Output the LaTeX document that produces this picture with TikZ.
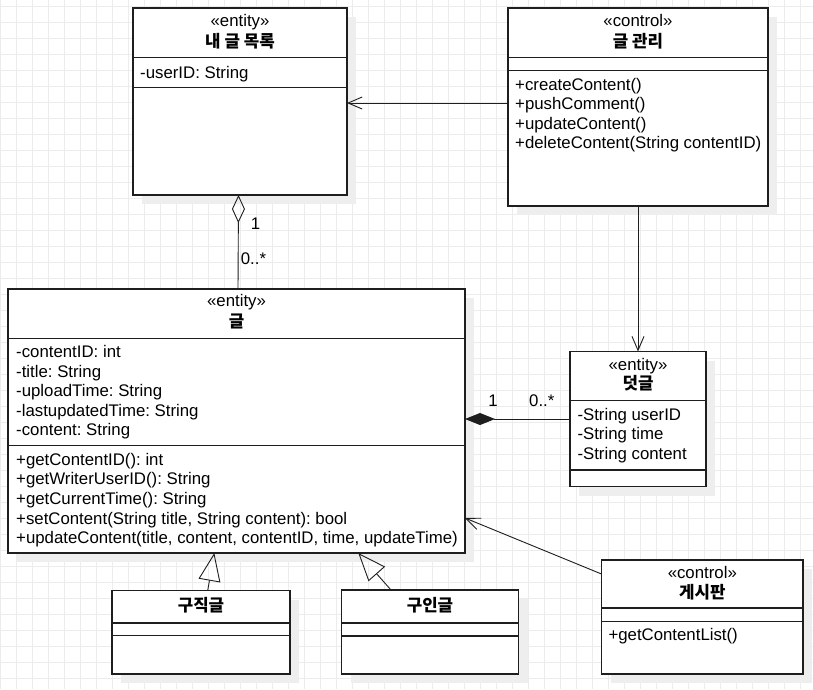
\documentclass[tikz,border=0pt]{standalone}
\usepackage{fontspec}
\setmainfont{Liberation Sans}
\newfontfamily\kr{Noto Sans CJK KR}
\usepackage{tikz}
\usetikzlibrary{arrows.meta, positioning, calc, shadows}
\definecolor{gridcolor}{RGB}{236, 236, 236}
\definecolor{shadowcolor}{RGB}{238, 238, 238}
\definecolor{linecolor}{RGB}{30, 30, 30}
\newcommand{\umlfont}{\fontsize{16.8}{19.5}\selectfont}
\frenchspacing

\begin{document}
\begin{tikzpicture}[
    x=1pt, y=-1pt,
    umlclass/.style={rectangle, draw=linecolor, line width=1.1pt, fill=white, inner sep=0pt, outer sep=0pt, anchor=north west,
        drop shadow={shadow xshift=9pt, shadow yshift=-9pt, fill=shadowcolor, opacity=1}},
    divider/.style={draw=linecolor, line width=1.1pt},
    stereo/.style={font=\umlfont, anchor=base, inner sep=0pt},
    cname/.style={font=\umlfont\kr\bfseries, anchor=base, inner sep=0pt},
    member/.style={font=\umlfont, anchor=base west, inner sep=0pt},
    mult/.style={font=\umlfont, inner sep=0pt},
    assoc/.style={-{Straight Barb[length=14pt, width=12pt]}, draw=linecolor, line width=0.9pt},
    inherit/.style={-{Triangle[open, length=28pt, width=22pt]}, draw=linecolor, line width=0.9pt},
    aggregation/.style={{Diamond[open, length=28pt, width=13pt]}-, draw=linecolor, line width=0.9pt},
    composition/.style={{Diamond[length=30pt, width=12pt]}-, draw=linecolor, line width=0.9pt}
]

\useasboundingbox (0,0) rectangle (813,689);
\fill[white] (0,0) rectangle (813,689);

% Grid
\foreach \gx in {0,16,...,812} \draw[gridcolor, line width=0.8pt] (\gx,0) -- (\gx,689);
\foreach \gy in {6,22,...,688} \draw[gridcolor, line width=0.8pt] (0,\gy) -- (813,\gy);

% === 내 글 목록 ===
\node[umlclass, minimum width=214pt, minimum height=187pt] (mylist) at (133,8) {};
\draw[divider] (133,57.5) -- (347,57.5);
\draw[divider] (133,87.5) -- (347,87.5);
\node[stereo] (mylist_st) at (240,26.7) {«entity»};
\node[cname] (mylist_nm) at (240,47) {내 글 목록};
\node[member] (mylist_a1) at (140,78) {-userID: String};

% === 글 관리 ===
\node[umlclass, minimum width=260pt, minimum height=198pt] (ctrl) at (508,8) {};
\draw[divider] (508,57.5) -- (768,57.5);
\draw[divider] (508,70.5) -- (768,70.5);
\node[stereo] (ctrl_st) at (638,26.7) {«control»};
\node[cname] (ctrl_nm) at (638,47) {글 관리};
\node[member] (ctrl_m1) at (515,90) {+createContent()};
\node[member] (ctrl_m2) at (515,109.3) {+pushComment()};
\node[member] (ctrl_m3) at (515,129) {+updateContent()};
\node[member] (ctrl_m4) at (515,148.3) {+deleteContent(String contentID)};

% === 글 ===
\node[umlclass, minimum width=457pt, minimum height=264pt] (post) at (8,289) {};
\draw[divider] (8,338.5) -- (465,338.5);
\draw[divider] (8,445.5) -- (465,445.5);
\node[stereo] (post_st) at (236.5,306.7) {«entity»};
\node[cname] (post_nm) at (236.5,327) {글};
\node[member] (post_a1) at (16,357.3) {-contentID: int};
\node[member] (post_a2) at (16,377) {-title: String};
\node[member] (post_a3) at (16,396.7) {-uploadTime: String};
\node[member] (post_a4) at (16,416) {-lastupdatedTime: String};
\node[member] (post_a5) at (16,435.7) {-content: String};
\node[member] (post_m1) at (16,465) {+getContentID(): int};
\node[member] (post_m2) at (16,484.7) {+getWriterUserID(): String};
\node[member] (post_m3) at (16,504) {+getCurrentTime(): String};
\node[member] (post_m4) at (16,524) {+setContent(String title, String content): bool};
\node[member] (post_m5) at (16,543.3) {+updateContent(title, content, contentID, time, updateTime)};

% === 덧글 ===
\node[umlclass, minimum width=136pt, minimum height=135pt] (reply) at (570,351.5) {};
\draw[divider] (570,400.5) -- (706,400.5);
\draw[divider] (570,470) -- (706,470);
\node[stereo] (reply_st) at (638,370) {«entity»};
\node[cname] (reply_nm) at (638,389.5) {덧글};
\node[member] (reply_a1) at (577.3,420) {-String userID};
\node[member] (reply_a2) at (577.3,439.3) {-String time};
\node[member] (reply_a3) at (577.3,459) {-String content};

% === 구직글 / 구인글 ===
\node[umlclass, minimum width=178pt, minimum height=83.5pt] (seek) at (112,590.5) {};
\draw[divider] (112,623) -- (290,623);
\draw[divider] (112,635.5) -- (290,635.5);
\node[cname] (seek_nm) at (201,611.5) {구직글};

\node[umlclass, minimum width=177pt, minimum height=84pt] (hire) at (341.5,590) {};
\draw[divider] (341.5,623) -- (518.5,623);
\draw[divider] (341.5,636) -- (518.5,636);
\node[cname] (hire_nm) at (430,611.5) {구인글};

% === 게시판 ===
\node[umlclass, minimum width=201.5pt, minimum height=114pt] (board) at (601.5,560) {};
\draw[divider] (601.5,608) -- (803,608);
\draw[divider] (601.5,621.5) -- (803,621.5);
\node[stereo] (board_st) at (702.3,578.3) {«control»};
\node[cname] (board_nm) at (702.3,598) {게시판};
\node[member] (board_m1) at (608.3,640) {+getContentList()};

% Connectors
\draw[assoc] (ctrl.west |- 0,103) -- (mylist.east |- 0,103);
\draw[assoc] (ctrl.south) -- (reply.north);
\draw[aggregation] ([xshift=-1.5pt]mylist.south) -- ([xshift=1.5pt]post.north);
\draw[composition] (post.east |- reply.west) -- (reply.west);
\draw[inherit] ([xshift=6.7pt]seek.north) -- ([xshift=13.3pt]seek.north |- post.south);
\draw[inherit] ([xshift=-39pt]hire.north) -- ([xshift=-71.7pt]hire.north |- post.south);
\draw[assoc] ([yshift=43pt]board.west) -- ([yshift=-97pt]post.east);

% Multiplicities
\node[mult, anchor=base west] (agg_one) at (250.7,229.3) {1};
\node[mult, anchor=base west] (agg_many) at (240.7,264.3) {0..*};
\node[mult, anchor=base] (comp_one) at (493,406) {1};
\node[mult, anchor=base west] (comp_many) at (529,406) {0..*};

\end{tikzpicture}
\end{document}
